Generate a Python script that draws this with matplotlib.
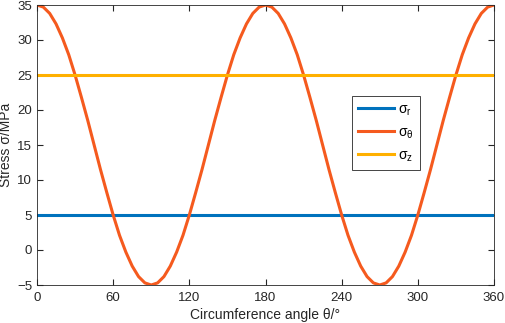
import numpy as np
import matplotlib
matplotlib.use('Agg')
import matplotlib.pyplot as plt

plt.rcParams['font.family'] = ['Liberation Sans', 'DejaVu Sans']
plt.rcParams['mathtext.fontset'] = 'custom'
plt.rcParams['mathtext.rm'] = 'Liberation Sans'
plt.rcParams['mathtext.it'] = 'Liberation Sans'

# angle, degrees (5-degree step)
theta = np.arange(0, 361, 5)
# sigma_theta from 0 to 90 deg, the rest repeats this shape
quarter = [35.0, 34.7, 33.8, 32.3, 30.3, 27.9, 25.0, 21.8, 18.5, 15.0,
           11.5, 8.2, 5.0, 2.1, -0.3, -2.3, -3.8, -4.7, -5.0]
half = quarter + quarter[-2::-1]
sigma_theta = half + half[1:] + half[1:] + half[1:]
sigma_theta = sigma_theta[:len(theta)]
sigma_r = [5.0] * len(theta)
sigma_z = [25.0] * len(theta)

xticks = [0, 60, 120, 180, 240, 300, 360]
yticks = [-5, 0, 5, 10, 15, 20, 25, 30, 35]

fig = plt.figure(figsize=(5.05, 3.23), dpi=100)
ax = fig.add_axes([37 / 505, 38 / 323, 457 / 505, 280 / 323])

ax.plot(theta, sigma_r, color='#0072BD', lw=2.2, label=r'σ$_\mathrm{r}$')
ax.plot(theta, sigma_theta, color='#F55A1E', lw=2.2, label=r'σ$_\mathrm{θ}$')
ax.plot(theta, sigma_z, color='#FFB000', lw=2.2, label=r'σ$_\mathrm{z}$')

ax.set_xlim(0, 360)
ax.set_ylim(-5, 35)
ax.set_xticks(xticks)
ax.set_yticks(yticks)
ax.tick_params(direction='in', length=4, labelsize=9.5, colors='#262626',
               top=True, right=True, labeltop=False, labelright=False)
ax.tick_params(axis='x', pad=5)
for s in ax.spines.values():
  s.set_color('#262626')
  s.set_linewidth(0.6)
ax.set_xlabel('Circumference angle θ/°', fontsize=10, color='#262626', labelpad=3)
ax.set_ylabel('Stress σ/MPa', fontsize=10, color='#262626', labelpad=3)

leg = ax.legend(loc='upper left', bbox_to_anchor=(0.689, 0.675), fontsize=10,
                fancybox=False, edgecolor='#262626', framealpha=1,
                handlelength=2.6, handletextpad=0.3, borderpad=0.45,
                labelspacing=0.55, borderaxespad=0)
leg.get_frame().set_linewidth(0.6)

fig.savefig('out.png', dpi=100)
